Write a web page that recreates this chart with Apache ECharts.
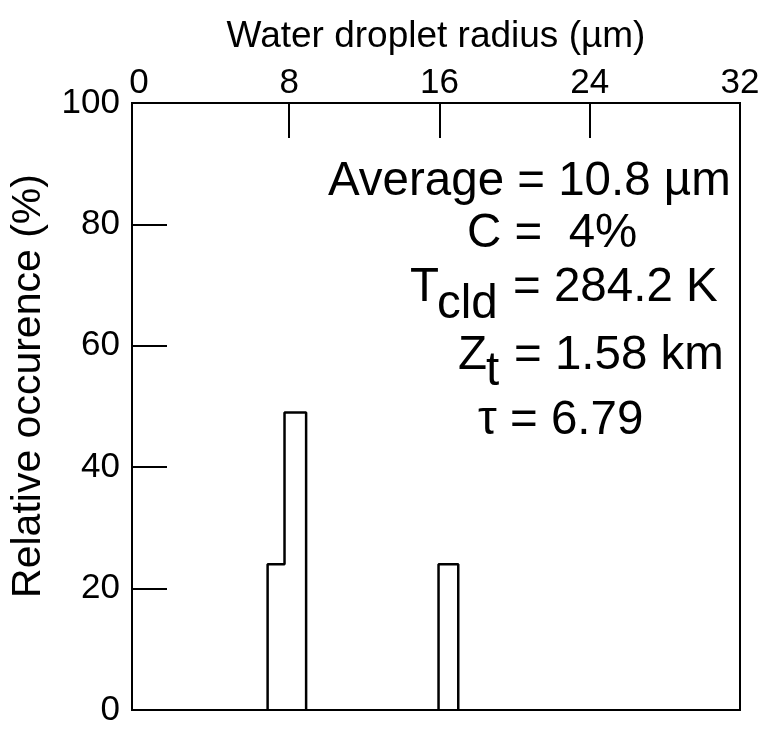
<!DOCTYPE html>
<html>
<head>
<meta charset="utf-8">
<script src="https://cdn.jsdelivr.net/npm/echarts@6/dist/echarts.min.js"></script>
<style>html,body{margin:0;padding:0;background:#fff;}#c{width:767px;height:731px;}</style>
</head>
<body>
<div id="c"></div>
<script>
// ---- data ----
const binLeft = [6.85, 7.75, 15.95];      // bin left edges (µm)
const binRight = [7.75, 8.9, 17.0];       // bin right edges (µm)
const occurrence = [24, 49, 24];          // relative occurrence (%)
const xTickLabels = [0, 8, 16, 24, 32];
const xInnerTicks = [8, 16, 24];
const xMin = -0.37, xMax = 32;
const yMin = 0, yMax = 100;

// build outline groups of contiguous bins
const groups = [];
let cur = null;
for (let i = 0; i < binLeft.length; i++) {
  if (cur && Math.abs(binLeft[i] - binRight[i - 1]) < 1e-9) {
    cur.push([binLeft[i], occurrence[i]], [binRight[i], occurrence[i]]);
  } else {
    if (cur) { cur.push([binRight[i - 1], 0]); groups.push(cur); }
    cur = [[binLeft[i], 0], [binLeft[i], occurrence[i]], [binRight[i], occurrence[i]]];
  }
}
if (cur) { cur.push([binRight[binRight.length - 1], 0]); groups.push(cur); }

const FONT = '"Liberation Sans", Arial, Helvetica, sans-serif';
const chart = echarts.init(document.getElementById('c'), null, { renderer: 'canvas' });

const annoSize = 47.5;
function txt(text, x, baseline, size) {
  return {
    type: 'text', x: x, y: baseline - 0.347 * size,
    style: { text: text, font: size + 'px ' + FONT, fill: '#000', textAlign: 'left', verticalAlign: 'middle' }
  };
}

chart.setOption({
  animation: false,
  backgroundColor: '#fff',
  grid: { left: 132, right: 27, top: 103, bottom: 21, show: true, borderColor: '#000', borderWidth: 2, backgroundColor: 'transparent' },
  xAxis: {
    type: 'value', position: 'top', min: xMin, max: xMax,
    name: 'Water droplet radius (µm)', nameLocation: 'middle', nameGap: 48,
    nameTextStyle: { fontFamily: FONT, fontSize: 37, color: '#000' },
    axisLine: { show: true, onZero: false, lineStyle: { color: '#000', width: 2 } },
    axisTick: { show: true, inside: true, length: 35, customValues: xInnerTicks, lineStyle: { color: '#000', width: 2 } },
    axisLabel: { show: true, customValues: xTickLabels, fontFamily: FONT, fontSize: 35, color: '#000', margin: 2 },
    splitLine: { show: false }
  },
  yAxis: {
    type: 'value', min: yMin, max: yMax, interval: 20,
    axisLine: { show: true, onZero: false, lineStyle: { color: '#000', width: 2 } },
    axisTick: { show: true, inside: true, length: 35, lineStyle: { color: '#000', width: 2 } },
    axisLabel: { fontFamily: FONT, fontSize: 35, color: '#000', margin: 12, padding: [14, 0, 0, 0] },
    splitLine: { show: false }
  },
  series: groups.map(g => ({
    type: 'line', data: g, symbol: 'none', silent: true,
    lineStyle: { color: '#000', width: 2.5 }
  })),
  graphic: [
    {
      type: 'text', x: 29, y: 386, rotation: Math.PI / 2,
      style: { text: 'Relative occurence (%)', font: '41px ' + FONT, fill: '#000', textAlign: 'center', verticalAlign: 'middle' }
    },
    txt('Average = 10.8 µm', 328, 198, annoSize),
    txt('C =  4%', 467, 250, annoSize),
    txt('T', 410, 304, annoSize),
    txt('cld', 437, 321, annoSize),
    txt('= 284.2 K', 513, 304, annoSize),
    txt('Z', 458, 372, annoSize),
    txt('t', 486, 388, annoSize),
    txt('= 1.58 km', 514, 372, annoSize),
    txt('τ = 6.79', 478, 437, annoSize)
  ]
});
</script>
</body>
</html>
